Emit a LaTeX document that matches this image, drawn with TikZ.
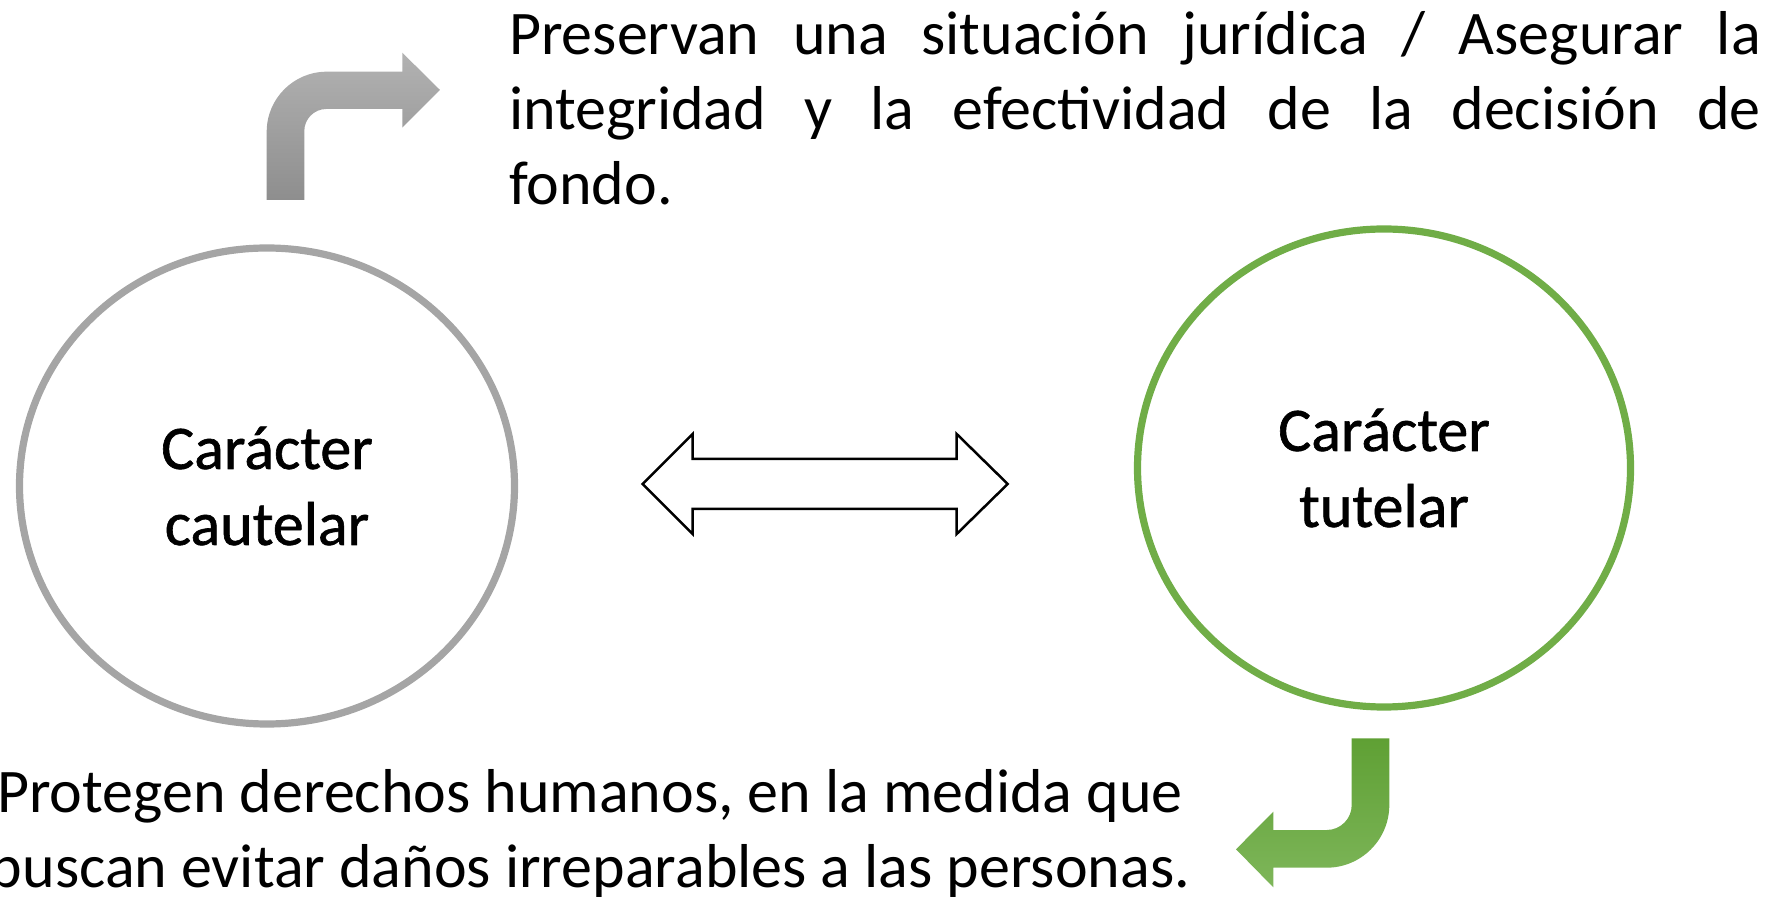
\documentclass[tikz,border=0pt]{standalone}
\usepackage{fontspec}
\setmainfont{Carlito}
\newfontfamily\circfont{Carlito}[FakeBold=1]
\usetikzlibrary{shapes.geometric}
\definecolor{cgray}{RGB}{165,165,165}
\definecolor{cgreen}{RGB}{112,173,71}
\definecolor{ggtop}{RGB}{178,178,178}
\definecolor{ggbot}{RGB}{142,142,142}
\definecolor{grtop}{RGB}{95,160,52}
\definecolor{grbot}{RGB}{126,182,90}
\tikzset{
  circnode/.style={ellipse, line width=3.6pt, inner sep=0pt, align=center, font=\circfont\fontsize{31}{38}\selectfont},
  bodytext/.style={inner sep=0pt, font=\fontsize{31}{37.5}\selectfont},
  blockarrow/.style={draw=black, line width=1.25pt, fill=white, miter limit=10}
}
\begin{document}
\begin{tikzpicture}[x=0.5pt,y=-0.5pt]
\useasboundingbox (0,0) rectangle (1776,913);
\clip (0,0) rectangle (1776,913);
% circles
\node[circnode, draw=cgray, minimum width=247.5pt, minimum height=238pt] (caut) at (267,486) {Carácter\\cautelar};
\node[circnode, draw=cgreen, minimum width=246.5pt, minimum height=239pt] (tut) at (1384,468) {Carácter\\tutelar};
% double arrow
\path[blockarrow] (642.7,484) -- (692.7,434) -- (692.7,459) -- (956.7,459) -- (956.7,434)
  -- (1007.7,484) -- (956.7,534) -- (956.7,509) -- (692.7,509) -- (692.7,534) -- cycle;
% gray bent arrow
\shade[top color=ggtop, bottom color=ggbot] (266.7,200) -- (266.7,131.7)
  .. controls (266.7,98.6) and (293.6,71.7) .. (326.7,71.7)
  -- (402.3,71.7) -- (402.3,52.7) -- (440,90) -- (402.3,127.7) -- (402.3,109)
  -- (326.3,109) .. controls (314.2,109) and (304.3,118.9) .. (304.3,131)
  -- (304.3,200) -- cycle;
% green bent arrow
\shade[top color=grtop, bottom color=grbot] (1351.7,738.3) -- (1389.3,738.3) -- (1389.3,805)
  .. controls (1389.3,839.6) and (1361.2,867.7) .. (1326.6,867.7)
  -- (1273.3,867.7) -- (1273.3,887.3) -- (1236,849.3) -- (1273.3,811.7) -- (1273.3,830)
  -- (1326.7,830) .. controls (1340.5,830) and (1351.7,818.8) .. (1351.7,805) -- cycle;
% texts
\node[bodytext, anchor=north west, text width=626pt, align=justify] (top) at (508.6,11)
  {Preservan una situación jurídica / Asegurar la\linebreak integridad y la efectividad de la decisión de\linebreak fondo.};
\node[bodytext, anchor=north, align=center] (bot) at (590,769)
  {Protegen derechos humanos, en la medida que\\buscan evitar daños irreparables a las personas.};
\end{tikzpicture}
\end{document}
